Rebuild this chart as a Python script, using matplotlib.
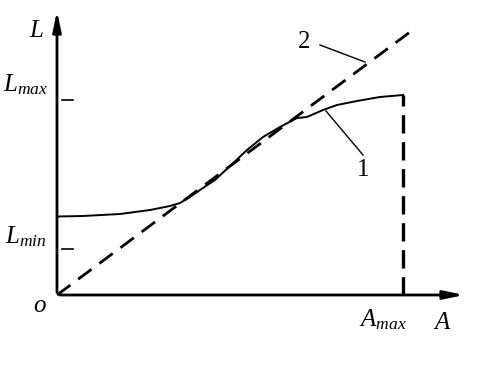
import numpy as np
import matplotlib.pyplot as plt

plt.rcParams['mathtext.fontset'] = 'custom'
plt.rcParams['mathtext.it'] = 'Liberation Serif:italic'
plt.rcParams['mathtext.rm'] = 'Liberation Serif'

# curve 1 (sensor output L vs input A)
A1 = [0, 26, 63, 93, 113, 123, 133, 143, 158, 173, 190, 206, 223, 240, 250,
      266, 280, 300, 323, 346]
L1 = [78.5, 79, 81, 85, 89, 92, 98, 105, 115, 129, 145, 158, 168, 177, 178,
      185, 190, 194, 198, 200]
# line 2 (ideal linear)
A2 = [0, 353]
L2 = [0, 263]
A_max = 346
L_max = 195
L_min = 46

fig = plt.figure(figsize=(4.82, 3.83), dpi=100)
ax = fig.add_axes([0, 0, 1, 1])
ax.set_xlim(-57, 425)
ax.set_ylim(-88, 295)
ax.axis('off')

# axes with arrows
ax.annotate('', xy=(410, 0), xytext=(0, 0),
            arrowprops=dict(arrowstyle='-|>,head_length=1.2,head_width=0.25', color='k', lw=2))
ax.annotate('', xy=(0, 287), xytext=(0, 0),
            arrowprops=dict(arrowstyle='-|>,head_length=1.2,head_width=0.25', color='k', lw=2))

ax.plot(A1, L1, color='k', lw=1.4)
ax.plot(A2, L2, color='k', lw=2, dashes=(6, 3.5))
ax.plot([A_max, A_max], [0, L1[-1]], color='k', lw=2.4, dashes=(5.5, 2.6))

# ticks for L_max / L_min
ax.plot([5, 16], [L_max, L_max], color='k', lw=1.2)
ax.plot([5, 16], [L_min, L_min], color='k', lw=1.2)

# leaders
ax.plot([269, 306], [184, 140], color='k', lw=1)
ax.plot([263, 308], [250, 233], color='k', lw=1)

fs = 18
ax.text(-20, 265, '$L$', fontsize=fs, ha='center', va='center')
ax.text(-31, 210, '$L_{max}$', fontsize=fs, ha='center', va='center')
ax.text(-31, 58, '$L_{min}$', fontsize=fs, ha='center', va='center')
ax.text(-17, -10, '$o$', fontsize=fs, ha='center', va='center')
ax.text(A_max - 20, -25, '$A_{max}$', fontsize=fs, ha='center', va='center')
ax.text(385, -27, '$A$', fontsize=fs, ha='center', va='center')
ax.text(306, 125, '1', fontsize=fs, ha='center', va='center', family='Liberation Serif')
ax.text(247, 253, '2', fontsize=fs, ha='center', va='center', family='Liberation Serif')

fig.savefig('out.png', dpi=100)
